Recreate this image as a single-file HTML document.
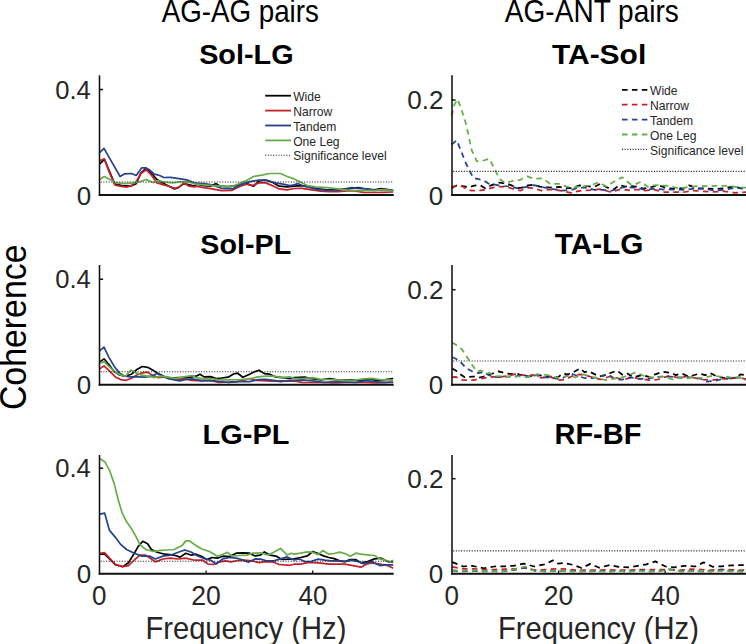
<!DOCTYPE html><html><head><meta charset="utf-8"><style>html,body{margin:0;padding:0;background:#fff;}svg{display:block;}text{font-family:"Liberation Sans",sans-serif;}</style></head><body>
<svg width="746" height="644" viewBox="0 0 746 644">
<rect width="746" height="644" fill="#fff"/>
<text transform="translate(161.63,21.70) scale(0.8997,1)" font-size="30.84" fill="#000">AG-AG pairs</text>
<text transform="translate(504.83,21.70) scale(0.9096,1)" font-size="30.84" fill="#000">AG-ANT pairs</text>
<text transform="translate(199.14,64.22) scale(1.0385,1)" font-size="27.76" font-weight="bold" fill="#000">Sol-LG</text>
<text transform="translate(551.90,64.03) scale(1.0967,1)" font-size="27.35" font-weight="bold" fill="#000">TA-Sol</text>
<text transform="translate(200.24,253.92) scale(1.0350,1)" font-size="27.76" font-weight="bold" fill="#000">Sol-PL</text>
<text transform="translate(554.70,253.91) scale(1.0318,1)" font-size="28.83" font-weight="bold" fill="#000">TA-LG</text>
<text transform="translate(202.54,443.62) scale(1.0196,1)" font-size="28.41" font-weight="bold" fill="#000">LG-PL</text>
<text transform="translate(554.55,443.90) scale(1.0051,1)" font-size="28.80" font-weight="bold" fill="#000">RF-BF</text>
<polyline points="99.6,164.1 104.4,159.4 114.8,184.2 122.1,185.6 130.2,186.2 136.2,183.6 140.9,172.8 146.3,168.2 151.6,173.5 157.0,179.5 163.7,183.6 169.0,186.2 174.4,188.9 178.4,187.6 183.8,183.6 189.2,184.9 194.5,186.2 196.0,184.2 204.0,185.6 210.7,186.2 216.1,183.6 220.1,186.2 226.8,186.6 233.5,186.2 240.2,184.2 246.9,183.6 253.6,186.2 259.0,180.9 265.7,180.2 272.4,182.2 279.1,186.2 287.2,186.9 294.0,186.2 302.0,185.6 310.1,186.9 318.1,188.9 327.5,189.9 338.2,189.6 347.6,188.9 358.3,187.6 363.7,188.5 374.4,189.9 381.1,188.5 387.8,189.6 393.2,190.7" fill="none" stroke="#000000" stroke-width="1.7" stroke-linejoin="round"/>
<polyline points="99.6,160.8 104.4,158.8 108.7,170.8 114.8,184.9 120.1,186.2 126.2,187.2 131.5,185.6 136.2,181.6 140.9,173.5 146.3,169.8 151.6,175.5 157.0,182.9 163.7,184.9 169.0,186.2 174.4,188.3 179.1,187.2 183.8,182.9 189.2,186.2 194.5,186.9 196.0,186.2 204.0,187.6 212.1,188.9 221.5,190.7 232.2,190.3 240.2,186.2 246.9,184.2 252.3,185.6 259.0,182.9 265.7,182.9 272.4,185.6 279.1,188.9 287.2,189.9 294.0,188.5 302.0,188.3 310.1,189.6 320.8,191.2 328.9,191.6 338.2,191.6 347.6,190.9 354.3,190.9 363.7,192.3 374.4,192.5 382.5,192.3 393.2,192.0" fill="none" stroke="#c8202a" stroke-width="1.7" stroke-linejoin="round"/>
<polyline points="99.6,152.7 104.0,148.3 111.4,161.4 120.1,176.5 124.8,173.8 131.5,173.5 136.2,175.5 141.6,167.9 145.6,167.9 148.9,169.5 154.3,174.2 159.7,175.5 163.7,177.5 170.4,177.3 175.7,178.2 182.4,179.1 187.8,180.2 191.8,181.8 196.0,183.2 204.0,183.6 212.1,184.9 221.5,188.3 232.2,188.9 240.2,184.9 249.6,181.6 259.0,180.2 267.0,180.2 275.1,182.9 283.1,184.2 289.8,185.6 294.0,184.9 298.0,183.6 302.0,185.6 310.1,187.6 318.1,189.6 327.5,190.3 338.2,190.3 347.6,188.3 351.6,187.6 358.3,188.3 365.0,188.9 374.4,190.3 382.5,189.6 393.2,190.7" fill="none" stroke="#26428e" stroke-width="1.7" stroke-linejoin="round"/>
<polyline points="99.6,179.5 104.4,176.5 111.4,180.2 116.8,182.9 124.8,183.6 132.9,182.9 138.2,182.2 146.3,179.5 153.0,182.6 158.3,180.5 165.0,182.2 173.1,182.9 181.1,181.6 189.2,182.2 196.0,184.2 204.0,184.9 212.1,185.6 222.8,186.2 230.9,186.9 237.6,184.2 245.6,180.9 253.6,176.5 261.7,175.1 269.7,173.5 280.5,173.5 287.2,176.5 294.0,178.9 299.4,181.6 307.4,185.6 315.4,186.9 327.5,187.6 338.2,188.9 347.6,190.3 361.0,190.7 374.4,190.7 382.5,189.6 393.2,190.9" fill="none" stroke="#66ad48" stroke-width="1.7" stroke-linejoin="round"/>
<line x1="100.7" y1="182.0" x2="393.2" y2="182.0" stroke="#2a2a2a" stroke-width="1.1" stroke-dasharray="1.1 1.54"/>
<line x1="99.5" y1="75.3" x2="99.5" y2="196.0" stroke="#111111" stroke-width="1.55"/>
<line x1="98.75" y1="195.0" x2="393.7" y2="195.0" stroke="#111111" stroke-width="2.0"/>
<line x1="99.5" y1="89.5" x2="103.1" y2="89.5" stroke="#111111" stroke-width="1.5"/>
<text transform="translate(55.23,98.77) scale(0.9684,1)" font-size="26.43" fill="#262626">0.4</text>
<text transform="translate(76.66,204.59) scale(0.9825,1)" font-size="26.43" fill="#262626">0</text>
<polyline points="451.7,187.3 456.7,185.6 462.6,186.0 468.5,187.3 474.3,185.6 480.2,185.3 485.2,188.2 490.3,185.6 498.7,182.6 505.4,183.1 512.1,185.6 518.8,188.2 523.8,187.3 528.0,185.4 533.9,184.7 539.8,186.6 550.1,187.6 559.0,186.9 566.3,188.1 572.2,188.1 579.6,185.4 587.0,186.1 594.4,186.9 600.3,183.9 607.6,187.6 613.5,189.5 619.4,185.1 625.3,186.6 631.2,186.1 636.0,186.6 643.4,188.6 652.2,186.9 658.1,185.1 667.0,188.3 674.3,188.6 683.2,188.3 689.1,185.4 698.0,188.6 706.8,188.6 715.6,189.1 724.5,188.3 733.3,186.6 742.2,188.6 746.0,188.6" fill="none" stroke="#000000" stroke-width="1.75" stroke-linejoin="round" stroke-dasharray="5.6 4.3"/>
<polyline points="451.7,188.2 456.7,185.3 462.6,186.5 468.5,190.3 474.3,190.7 481.0,190.3 487.8,189.0 493.6,187.3 500.3,186.5 507.0,187.3 513.8,189.0 520.5,190.7 525.0,188.5 528.0,187.6 533.9,188.3 541.3,190.6 550.1,189.5 560.4,190.6 570.8,192.8 581.1,190.6 589.9,190.1 600.3,189.1 610.6,192.0 620.9,189.1 631.2,190.6 636.0,189.5 644.8,190.6 653.7,189.5 664.0,192.0 674.3,192.0 684.7,192.0 693.5,190.6 702.4,191.3 712.7,192.0 724.5,191.3 734.8,192.8 746.0,192.0" fill="none" stroke="#c8202a" stroke-width="1.75" stroke-linejoin="round" stroke-dasharray="5.6 4.3"/>
<polyline points="451.7,144.5 456.7,140.3 460.9,150.4 465.1,161.3 469.3,170.5 473.5,178.1 477.7,178.9 483.6,180.6 489.4,184.0 496.1,184.8 503.7,186.0 510.4,186.5 517.1,188.2 523.8,187.3 528.0,186.6 533.9,185.1 541.3,186.9 553.1,189.1 563.4,190.6 572.2,189.8 578.1,187.6 585.5,187.6 594.4,189.8 603.2,189.8 610.6,191.0 616.5,189.1 625.3,186.9 631.2,187.6 636.0,187.6 644.8,189.8 655.2,188.6 665.5,189.8 675.8,189.5 684.7,189.8 695.0,188.6 703.8,188.3 714.2,190.6 724.5,189.8 736.3,187.6 746.0,188.3" fill="none" stroke="#26428e" stroke-width="1.75" stroke-linejoin="round" stroke-dasharray="5.6 4.3"/>
<polyline points="451.7,116.0 454.2,105.1 457.6,99.2 461.7,110.1 465.9,123.6 468.5,135.3 471.8,150.4 476.8,161.3 483.6,160.5 489.4,158.8 494.5,168.9 499.5,178.9 505.4,183.1 513.8,180.6 520.5,179.8 527.2,176.4 533.9,178.8 542.7,178.3 550.1,183.9 559.0,183.9 566.3,186.6 573.7,187.6 581.1,186.1 589.9,185.7 598.8,182.2 606.2,186.6 615.0,181.0 622.4,177.3 625.3,180.2 631.2,184.7 636.0,183.9 641.2,181.7 647.8,186.9 653.7,185.4 661.1,185.1 669.9,186.1 680.2,188.6 689.1,186.9 698.0,186.1 709.7,186.1 720.1,185.7 730.4,186.1 739.2,187.6 746.0,187.6" fill="none" stroke="#66ad48" stroke-width="1.75" stroke-linejoin="round" stroke-dasharray="5.6 4.3"/>
<line x1="453.2" y1="171.4" x2="746.0" y2="171.4" stroke="#2a2a2a" stroke-width="1.1" stroke-dasharray="1.1 1.54"/>
<line x1="452.0" y1="75.3" x2="452.0" y2="196.0" stroke="#111111" stroke-width="1.55"/>
<line x1="451.25" y1="195.0" x2="746.5" y2="195.0" stroke="#111111" stroke-width="2.0"/>
<line x1="452.0" y1="100.0" x2="455.6" y2="100.0" stroke="#111111" stroke-width="1.5"/>
<text transform="translate(407.31,109.33) scale(0.9851,1)" font-size="26.43" fill="#262626">0.2</text>
<text transform="translate(428.76,204.59) scale(0.9825,1)" font-size="26.43" fill="#262626">0</text>
<polyline points="99.6,362.2 104.0,358.8 108.7,364.2 114.1,371.6 119.4,374.9 124.8,376.2 131.5,374.2 136.9,369.5 142.2,366.5 147.6,367.3 153.0,370.2 158.3,373.6 163.7,376.2 170.4,378.0 178.4,377.6 185.1,377.6 191.8,376.9 196.0,376.2 200.0,374.2 204.0,376.9 210.7,376.6 216.1,378.5 221.5,378.0 228.2,377.2 233.5,374.0 237.6,373.2 242.9,377.2 249.6,374.2 255.0,371.6 259.0,370.2 264.4,373.6 269.7,374.2 276.4,377.2 283.1,377.6 289.8,378.3 294.0,377.6 304.7,377.2 310.1,378.3 320.8,379.9 330.2,378.5 339.6,380.3 350.3,379.9 361.0,380.3 369.1,378.9 377.1,380.3 385.2,379.6 393.2,378.5" fill="none" stroke="#000000" stroke-width="1.7" stroke-linejoin="round"/>
<polyline points="99.6,368.9 104.0,365.9 110.1,371.6 115.4,376.9 120.8,379.6 126.2,380.3 131.5,378.3 136.9,374.9 142.2,372.9 147.6,372.2 153.0,375.6 158.3,377.6 163.7,376.9 170.4,378.9 178.4,379.6 185.1,378.9 191.8,380.3 196.0,380.7 204.0,380.3 212.1,380.9 218.8,382.5 228.2,382.0 236.2,381.6 244.3,380.3 249.6,378.5 255.0,380.3 263.0,380.7 271.1,381.2 281.8,380.9 289.8,381.2 294.0,380.9 302.0,382.3 312.8,382.5 323.5,382.3 334.2,383.0 344.9,382.3 355.7,382.5 366.4,382.5 377.1,383.0 387.8,382.5 393.2,382.5" fill="none" stroke="#c8202a" stroke-width="1.7" stroke-linejoin="round"/>
<polyline points="99.6,350.8 104.0,347.2 108.7,356.8 114.1,366.2 119.4,372.9 124.8,376.2 130.2,376.9 138.2,376.9 144.9,377.2 151.6,376.2 157.0,373.6 161.0,375.6 167.7,378.3 174.4,379.9 179.8,380.9 185.1,379.6 191.8,378.9 196.0,379.6 201.4,380.9 209.4,380.3 217.4,381.2 228.2,382.5 238.9,381.6 249.6,381.6 257.7,379.6 265.7,379.3 273.7,380.3 280.5,381.6 289.8,380.3 294.0,380.3 302.0,379.9 312.8,380.9 323.5,382.5 334.2,381.6 344.9,382.0 355.7,382.3 366.4,380.7 374.4,381.6 385.2,382.3 393.2,382.0" fill="none" stroke="#26428e" stroke-width="1.7" stroke-linejoin="round"/>
<polyline points="99.6,362.8 104.0,361.9 110.1,367.5 115.4,372.2 120.8,374.9 125.5,376.2 130.8,370.0 135.5,372.6 140.9,374.9 147.6,376.2 154.3,377.6 161.0,376.2 167.7,377.2 175.7,378.3 183.8,376.9 191.8,375.6 196.0,377.6 204.0,378.9 212.1,378.9 220.1,379.9 229.5,379.9 238.9,379.6 249.6,378.9 257.7,376.9 265.7,376.2 273.7,376.2 281.8,377.6 289.8,376.9 294.0,378.3 302.0,378.5 312.8,377.6 320.8,379.3 331.5,379.6 342.3,380.3 353.0,380.3 363.7,378.9 371.7,378.3 379.8,379.6 387.8,379.9 393.2,380.3" fill="none" stroke="#66ad48" stroke-width="1.7" stroke-linejoin="round"/>
<line x1="100.7" y1="371.7" x2="393.2" y2="371.7" stroke="#2a2a2a" stroke-width="1.1" stroke-dasharray="1.1 1.54"/>
<line x1="99.5" y1="265.0" x2="99.5" y2="385.7" stroke="#111111" stroke-width="1.55"/>
<line x1="98.75" y1="384.7" x2="393.7" y2="384.7" stroke="#111111" stroke-width="2.0"/>
<line x1="99.5" y1="279.2" x2="103.1" y2="279.2" stroke="#111111" stroke-width="1.5"/>
<text transform="translate(55.23,288.47) scale(0.9684,1)" font-size="26.43" fill="#262626">0.4</text>
<text transform="translate(76.66,394.29) scale(0.9825,1)" font-size="26.43" fill="#262626">0</text>
<polyline points="452.2,368.6 455.9,370.6 460.3,374.2 464.7,377.2 469.2,376.9 473.6,376.5 479.5,377.5 486.9,375.7 494.2,372.8 498.7,371.3 506.0,373.5 511.9,374.2 517.8,374.2 523.7,375.7 529.6,376.5 535.5,374.0 541.4,375.7 550.3,376.5 558.0,377.3 562.4,373.6 568.3,374.3 574.2,371.8 580.1,368.4 584.5,372.1 589.0,371.4 593.4,373.6 599.3,376.5 605.2,375.1 609.6,373.3 617.0,370.6 622.9,375.1 627.3,373.6 633.2,377.3 641.9,375.1 650.7,377.3 655.2,374.3 662.5,371.8 671.4,372.9 675.8,375.1 681.7,373.6 689.1,376.5 699.4,373.6 705.3,375.1 709.7,372.9 715.6,375.8 721.5,377.3 728.9,378.8 736.3,377.3 740.7,374.3 746.0,375.1" fill="none" stroke="#000000" stroke-width="1.75" stroke-linejoin="round" stroke-dasharray="5.6 4.3"/>
<polyline points="452.2,377.2 455.9,376.9 461.8,379.9 466.2,380.1 473.6,380.1 479.5,379.0 485.4,377.9 492.8,376.9 500.1,376.9 507.5,376.0 514.9,374.2 520.8,375.0 526.7,375.7 532.6,375.0 541.4,377.9 550.3,376.9 558.0,380.2 565.4,379.5 572.7,375.8 580.1,374.3 587.5,375.8 594.9,378.0 600.8,379.5 609.6,376.5 617.0,378.0 624.4,379.5 631.7,377.3 640.6,378.8 649.3,380.2 658.1,379.5 664.0,377.3 669.9,375.8 678.8,378.0 686.1,376.5 692.0,377.3 700.9,379.5 711.2,380.2 721.5,378.8 730.4,378.8 739.2,377.3 746.0,379.5" fill="none" stroke="#c8202a" stroke-width="1.75" stroke-linejoin="round" stroke-dasharray="5.6 4.3"/>
<polyline points="452.2,357.3 455.9,358.8 460.3,361.7 466.2,368.3 472.1,371.3 478.0,373.1 483.9,372.0 488.3,375.0 494.2,377.2 500.1,377.2 509.0,376.5 514.9,376.9 522.3,374.2 528.2,376.5 535.5,375.0 542.9,377.2 553.2,377.9 558.0,378.8 563.9,377.3 571.3,373.6 577.2,375.8 584.5,378.0 593.4,378.0 602.2,375.8 608.1,374.3 615.5,379.5 622.9,379.5 630.3,377.3 637.6,378.8 643.4,378.8 652.2,378.0 661.1,376.5 669.9,376.5 678.8,377.3 686.1,377.3 693.5,377.3 700.9,378.8 706.8,381.7 715.6,380.7 723.0,378.8 730.4,378.0 739.2,377.3 746.0,378.8" fill="none" stroke="#26428e" stroke-width="1.75" stroke-linejoin="round" stroke-dasharray="5.6 4.3"/>
<polyline points="452.2,342.5 455.9,344.7 461.8,349.2 466.2,355.8 469.2,360.2 472.9,366.1 476.5,371.3 481.0,370.6 486.9,373.5 489.8,372.8 494.2,376.5 500.1,376.0 506.0,376.9 511.9,375.7 519.3,376.5 526.7,377.5 534.1,375.0 541.4,374.2 550.3,375.7 558.0,378.0 563.9,376.5 569.8,375.8 575.7,377.3 583.1,374.3 590.4,376.5 599.3,378.8 606.7,380.2 612.6,378.8 619.9,378.0 627.3,375.8 636.2,372.1 643.4,375.8 650.7,377.3 656.6,377.3 664.0,376.5 672.9,379.5 677.3,377.3 684.7,378.8 693.5,377.3 700.9,378.0 705.3,377.3 712.7,375.8 720.1,376.5 726.0,376.5 733.3,378.0 739.2,377.3 746.0,380.2" fill="none" stroke="#66ad48" stroke-width="1.75" stroke-linejoin="round" stroke-dasharray="5.6 4.3"/>
<line x1="453.2" y1="361.0" x2="746.0" y2="361.0" stroke="#2a2a2a" stroke-width="1.1" stroke-dasharray="1.1 1.54"/>
<line x1="452.0" y1="265.0" x2="452.0" y2="385.7" stroke="#111111" stroke-width="1.55"/>
<line x1="451.25" y1="384.7" x2="746.5" y2="384.7" stroke="#111111" stroke-width="2.0"/>
<line x1="452.0" y1="289.7" x2="455.6" y2="289.7" stroke="#111111" stroke-width="1.5"/>
<text transform="translate(407.31,299.03) scale(0.9851,1)" font-size="26.43" fill="#262626">0.2</text>
<text transform="translate(428.76,394.29) scale(0.9825,1)" font-size="26.43" fill="#262626">0</text>
<polyline points="99.9,554.2 104.7,554.2 109.5,559.0 115.2,564.7 122.8,566.6 128.5,562.8 134.3,553.3 138.1,546.6 142.8,541.3 147.6,543.7 151.4,549.5 157.2,552.3 164.8,554.2 174.3,555.2 180.1,557.1 185.8,553.3 191.5,555.2 196.0,554.2 201.4,556.2 206.7,559.5 212.1,557.5 217.4,558.2 222.8,556.2 229.5,556.5 236.2,553.2 242.9,552.8 249.6,553.2 255.0,555.9 260.3,555.1 264.4,551.9 269.7,555.1 276.4,556.2 281.8,559.5 289.8,559.1 294.0,558.9 300.7,557.5 307.4,555.9 312.8,551.5 318.1,553.5 323.5,555.9 328.9,557.5 334.2,558.6 339.6,560.9 344.9,561.6 350.3,559.5 355.7,559.5 361.0,562.9 367.7,561.6 374.4,558.9 381.1,558.2 387.8,561.6 393.2,561.8" fill="none" stroke="#000000" stroke-width="1.7" stroke-linejoin="round"/>
<polyline points="99.9,553.3 104.7,552.7 109.5,558.1 115.2,564.2 122.8,566.6 128.5,565.7 134.3,560.0 140.0,555.2 145.7,555.2 151.4,559.0 155.3,561.9 162.9,559.0 170.5,558.1 178.2,559.0 185.8,558.1 193.4,560.0 196.0,560.2 202.7,560.2 208.1,564.0 213.4,564.5 218.8,562.2 225.5,560.9 230.9,561.8 237.6,560.5 244.3,560.2 252.3,560.9 259.0,562.6 265.7,561.6 273.7,562.2 279.1,564.5 289.8,565.3 294.0,564.2 300.7,564.2 307.4,562.6 314.1,562.6 320.8,563.2 328.9,564.2 336.9,564.2 344.9,564.2 353.0,565.6 361.0,567.2 366.4,564.2 371.7,562.9 379.8,564.2 387.8,565.6 393.2,568.3" fill="none" stroke="#c8202a" stroke-width="1.7" stroke-linejoin="round"/>
<polyline points="99.9,514.2 104.7,513.2 109.5,530.4 115.2,537.1 120.9,544.7 126.6,549.5 134.3,553.3 141.9,556.1 149.5,556.1 155.3,559.0 162.9,556.1 170.5,555.2 178.2,552.3 184.8,550.0 191.5,552.3 196.0,555.1 201.4,557.5 206.7,559.5 210.7,560.2 216.1,564.0 222.8,558.9 229.5,557.5 236.2,558.2 241.6,559.5 248.3,562.2 255.0,558.9 260.3,559.1 265.7,560.5 273.7,560.9 280.5,558.9 287.2,556.9 294.0,560.0 299.4,558.9 304.7,561.6 311.4,561.3 318.1,559.1 324.8,560.2 331.5,560.9 338.2,560.9 344.9,561.6 351.6,560.2 358.3,561.6 363.7,563.6 371.7,561.6 379.8,565.6 385.2,564.9 393.2,564.9" fill="none" stroke="#26428e" stroke-width="1.7" stroke-linejoin="round"/>
<polyline points="99.9,458.8 104.7,461.7 109.5,470.3 114.2,483.6 118.0,498.9 121.9,512.3 126.6,521.8 131.4,528.5 135.2,535.2 140.0,544.7 145.7,549.5 153.3,551.4 161.0,550.4 166.7,550.0 174.3,549.5 182.0,545.6 185.8,540.9 189.6,540.9 193.4,543.7 196.0,545.5 201.4,548.8 209.4,551.5 217.4,556.2 222.8,554.2 227.5,552.4 232.2,556.2 238.9,555.5 246.9,555.1 252.3,553.2 260.3,552.8 268.4,555.1 273.7,552.2 280.5,548.4 287.2,555.1 291.2,553.2 294.0,554.2 300.7,553.2 307.4,551.9 312.8,552.4 318.1,554.6 322.8,550.6 328.9,554.2 334.2,553.5 339.6,552.2 344.9,553.5 350.3,556.2 355.7,553.2 361.0,554.2 369.1,555.1 374.4,555.5 379.8,558.9 385.2,560.2 390.5,561.8 393.2,560.2" fill="none" stroke="#66ad48" stroke-width="1.7" stroke-linejoin="round"/>
<line x1="100.7" y1="561.2" x2="393.2" y2="561.2" stroke="#2a2a2a" stroke-width="1.1" stroke-dasharray="1.1 1.54"/>
<line x1="99.5" y1="455.0" x2="99.5" y2="574.7" stroke="#111111" stroke-width="1.55"/>
<line x1="98.75" y1="573.7" x2="393.7" y2="573.7" stroke="#111111" stroke-width="2.0"/>
<line x1="99.5" y1="468.2" x2="103.1" y2="468.2" stroke="#111111" stroke-width="1.5"/>
<line x1="206.1" y1="573.7" x2="206.1" y2="570.5" stroke="#111111" stroke-width="1.3"/>
<line x1="312.7" y1="573.7" x2="312.7" y2="570.5" stroke="#111111" stroke-width="1.3"/>
<text transform="translate(55.23,477.47) scale(0.9684,1)" font-size="26.43" fill="#262626">0.4</text>
<text transform="translate(76.66,583.29) scale(0.9825,1)" font-size="26.43" fill="#262626">0</text>
<polyline points="452.2,562.1 463.3,566.5 472.1,565.8 483.9,568.3 494.2,566.5 504.6,566.3 513.4,565.8 523.7,563.6 534.1,566.5 544.4,564.3 553.2,560.4 558.0,563.6 563.9,562.9 572.7,564.8 581.6,568.0 590.4,563.9 599.3,567.7 609.6,565.1 618.5,566.8 628.8,567.3 637.6,565.8 646.5,564.3 655.3,561.4 665.5,566.5 674.3,567.3 684.7,565.8 695.0,566.5 703.8,562.4 712.7,566.8 721.5,566.3 731.9,565.4 742.2,565.1 746.0,565.4" fill="none" stroke="#000000" stroke-width="1.75" stroke-linejoin="round" stroke-dasharray="5.6 4.3"/>
<polyline points="452.2,566.8 463.3,568.8 473.6,568.8 483.9,569.5 494.2,569.5 504.6,569.2 514.9,568.8 525.2,568.0 535.5,570.2 545.9,569.5 556.2,568.8 566.8,569.2 577.2,570.2 587.5,570.2 597.8,570.2 608.1,569.8 618.5,570.2 628.8,570.2 639.1,569.5 649.4,569.5 659.8,569.5 669.9,569.5 680.2,570.2 690.6,569.2 700.9,569.5 711.2,570.2 721.5,569.5 731.9,569.8 742.2,570.2 746.0,570.0" fill="none" stroke="#c8202a" stroke-width="1.75" stroke-linejoin="round" stroke-dasharray="5.6 4.3"/>
<polyline points="452.2,570.7 463.3,571.3 473.6,570.8 483.9,571.5 494.2,571.2 504.6,571.4 514.9,569.8 525.2,567.5 535.5,570.9 545.9,571.4 556.2,570.9 566.8,571.2 577.2,571.2 587.5,571.4 597.8,571.0 608.1,571.3 618.5,571.2 628.8,571.4 639.1,570.0 649.4,571.3 659.8,570.8 669.9,569.5 680.2,571.3 690.6,571.0 700.9,571.4 711.2,571.3 721.5,569.5 731.9,571.0 742.2,571.3 746.0,571.3" fill="none" stroke="#26428e" stroke-width="1.75" stroke-linejoin="round" stroke-dasharray="5.6 4.3"/>
<polyline points="452.2,570.2 463.3,571.0 473.6,570.2 483.9,571.0 494.2,571.0 504.6,571.0 514.9,569.2 525.2,566.5 534.1,570.7 545.9,571.3 556.2,570.7 566.8,571.3 577.2,571.3 587.5,571.0 597.8,571.3 608.1,571.3 618.5,571.0 628.8,571.3 639.1,570.8 649.4,571.3 659.8,571.3 669.9,568.8 680.2,571.3 690.6,571.3 700.9,571.0 711.2,571.3 721.5,571.0 731.9,571.3 742.2,571.3 746.0,571.3" fill="none" stroke="#66ad48" stroke-width="1.75" stroke-linejoin="round" stroke-dasharray="5.6 4.3"/>
<line x1="453.2" y1="550.9" x2="746.0" y2="550.9" stroke="#2a2a2a" stroke-width="1.1" stroke-dasharray="1.1 1.54"/>
<line x1="452.0" y1="455.0" x2="452.0" y2="574.7" stroke="#111111" stroke-width="1.55"/>
<line x1="451.25" y1="573.7" x2="746.5" y2="573.7" stroke="#111111" stroke-width="2.0"/>
<line x1="452.0" y1="478.7" x2="455.6" y2="478.7" stroke="#111111" stroke-width="1.5"/>
<line x1="558.6" y1="573.7" x2="558.6" y2="570.5" stroke="#111111" stroke-width="1.3"/>
<line x1="665.2" y1="573.7" x2="665.2" y2="570.5" stroke="#111111" stroke-width="1.3"/>
<text transform="translate(407.31,488.03) scale(0.9851,1)" font-size="26.43" fill="#262626">0.2</text>
<text transform="translate(428.76,583.29) scale(0.9825,1)" font-size="26.43" fill="#262626">0</text>
<text transform="translate(91.96,605.43) scale(0.9670,1)" font-size="26.86" fill="#262626">0</text>
<text transform="translate(191.22,605.43) scale(0.9817,1)" font-size="27.00" fill="#262626">20</text>
<text transform="translate(298.57,605.43) scale(0.9560,1)" font-size="27.00" fill="#262626">40</text>
<text transform="translate(145.39,638.80) scale(0.9552,1)" font-size="30.55" fill="#262626">Frequency (Hz)</text>
<text transform="translate(444.46,605.43) scale(0.9670,1)" font-size="26.86" fill="#262626">0</text>
<text transform="translate(543.72,605.43) scale(0.9817,1)" font-size="27.00" fill="#262626">20</text>
<text transform="translate(651.07,605.43) scale(0.9560,1)" font-size="27.00" fill="#262626">40</text>
<text transform="translate(497.89,638.80) scale(0.9552,1)" font-size="30.55" fill="#262626">Frequency (Hz)</text>
<text transform="translate(26.44,410.09) rotate(-90) scale(0.9361,1)" font-size="36.18" fill="#000">Coherence</text>
<line x1="265.2" y1="95.7" x2="291.0" y2="95.7" stroke="#000000" stroke-width="1.8"/>
<text x="293.2" y="100.8" font-size="12.1" fill="#262626">Wide</text>
<line x1="265.2" y1="110.6" x2="291.0" y2="110.6" stroke="#c8202a" stroke-width="1.8"/>
<text x="293.2" y="115.7" font-size="12.1" fill="#262626">Narrow</text>
<line x1="265.2" y1="125.5" x2="291.0" y2="125.5" stroke="#26428e" stroke-width="1.8"/>
<text x="293.2" y="130.6" font-size="12.1" fill="#262626">Tandem</text>
<line x1="265.2" y1="140.4" x2="291.0" y2="140.4" stroke="#66ad48" stroke-width="1.8"/>
<text x="293.2" y="145.5" font-size="12.1" fill="#262626">One Leg</text>
<line x1="265.2" y1="155.3" x2="291.0" y2="155.3" stroke="#2a2a2a" stroke-width="1.1" stroke-dasharray="1.1 1.54"/>
<text x="293.2" y="160.4" font-size="12.1" fill="#262626">Significance level</text>
<line x1="622.0" y1="89.8" x2="648.2" y2="89.8" stroke="#000000" stroke-width="1.8" stroke-dasharray="5.6 4.3"/>
<text x="650.0" y="94.9" font-size="12.1" fill="#262626">Wide</text>
<line x1="622.0" y1="104.7" x2="648.2" y2="104.7" stroke="#c8202a" stroke-width="1.8" stroke-dasharray="5.6 4.3"/>
<text x="650.0" y="109.8" font-size="12.1" fill="#262626">Narrow</text>
<line x1="622.0" y1="119.6" x2="648.2" y2="119.6" stroke="#26428e" stroke-width="1.8" stroke-dasharray="5.6 4.3"/>
<text x="650.0" y="124.7" font-size="12.1" fill="#262626">Tandem</text>
<line x1="622.0" y1="134.5" x2="648.2" y2="134.5" stroke="#66ad48" stroke-width="1.8" stroke-dasharray="5.6 4.3"/>
<text x="650.0" y="139.6" font-size="12.1" fill="#262626">One Leg</text>
<line x1="622.0" y1="149.4" x2="648.2" y2="149.4" stroke="#2a2a2a" stroke-width="1.1" stroke-dasharray="1.1 1.54"/>
<text x="650.0" y="154.5" font-size="12.1" fill="#262626">Significance level</text>
</svg></body></html>
